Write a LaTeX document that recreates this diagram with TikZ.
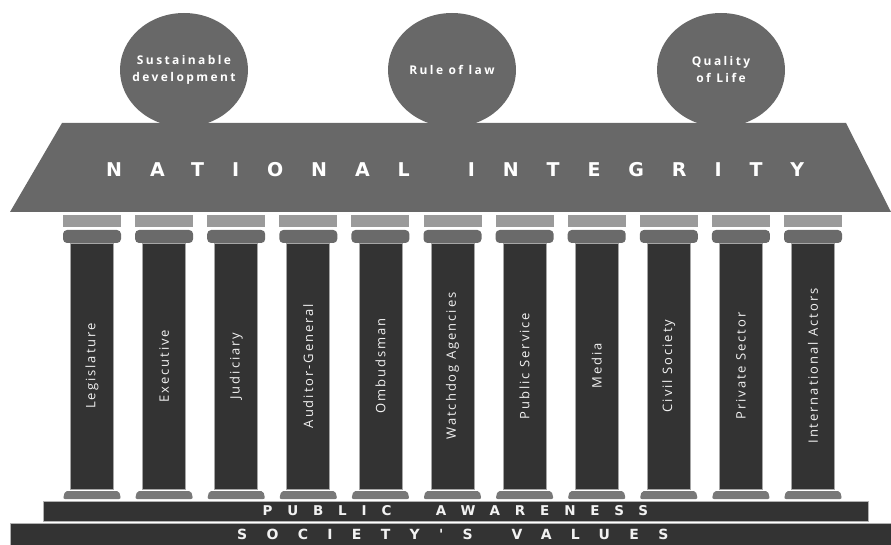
\documentclass[tikz,border=0pt]{standalone}
\usepackage{fontspec}
\setmainfont{Open Sans}
\newfontfamily\roofFont[LetterSpace=147]{DejaVu Sans}
\newfontfamily\awareFont[LetterSpace=110]{DejaVu Sans}
\newfontfamily\valueFont[LetterSpace=138]{DejaVu Sans}
\newfontfamily\pillarFont[LetterSpace=15]{Open Sans}
\newfontfamily\domeFont[LetterSpace=20]{Open Sans}
\usetikzlibrary{shapes.geometric, positioning, calc}
\definecolor{domeGray}{HTML}{686868}
\definecolor{capLight}{HTML}{9A9A9A}
\definecolor{capDark}{HTML}{6A6A6A}
\definecolor{shaftDark}{HTML}{333333}
\definecolor{baseGray}{HTML}{787878}

\begin{document}
\begin{tikzpicture}[x=1pt, y=-1pt,
  dome/.style={ellipse, fill=domeGray, minimum width=128, minimum height=114, inner sep=0pt},
  domeText/.style={text=white, align=center, inner sep=0pt,
    font=\domeFont\bfseries\fontsize{12}{17}\selectfont},
  roofText/.style={text=white, inner sep=0pt, font=\roofFont\bfseries\fontsize{19}{20}\selectfont},
  shaft/.style={rectangle, fill=shaftDark, draw=gray!70, line width=0.8pt, rotate=90,
    minimum width=246, minimum height=43, inner sep=0pt,
    text=white!90!gray, font=\pillarFont\fontsize{13}{14}\selectfont},
  bar/.style={rectangle, fill=shaftDark, draw=gray!60, line width=1pt, inner sep=0pt},
  awareText/.style={text=white!90!gray, inner sep=0pt, font=\awareFont\bfseries\fontsize{13.5}{14}\selectfont},
  valueText/.style={text=white!90!gray, inner sep=0pt, font=\valueFont\bfseries\fontsize{14}{15}\selectfont}]
  \useasboundingbox (0,0) rectangle (891,545);

  % Domes
  \node[dome] (sustain) at (184,70) {};
  \node[domeText] (sustainText) at (sustain) {Sustainable\\development};
  \node[dome] (law) at (452,70) {};
  \node[domeText] (lawText) at (law) {Rule of law};
  \node[dome] (life) at (721,70) {};
  \node[domeText] (lifeText) at (life) {Quality\\of Life};

  % Roof
  \fill[domeGray] (62,123) -- (846,123) -- (891,212) -- (10,212) -- cycle;
  \node[roofText] (roofNational) at (258,170) {NATIONAL};
  \node[roofText] (roofIntegrity) at (636,170) {INTEGRITY};

  % Pillars
  \foreach \name [count=\i from 0] in {Legislature, Executive, Judiciary, Auditor-General,
    Ombudsman, Watchdog Agencies, Public Service, Media, Civil Society, Private Sector,
    International Actors}{
    \pgfmathsetmacro\cx{92+72.1*\i}
    \fill[capLight] (\cx-29,215) rectangle (\cx+29,227);
    \fill[capDark, rounded corners=4pt] (\cx-29,230) rectangle (\cx+29,243);
    \node[shaft] (pillar\i) at (\cx,366) {\name};
    \fill[baseGray, rounded corners=2pt] (\cx-29,499) -- (\cx-27,491) -- (\cx+27,491) -- (\cx+29,499) -- cycle;
  }

  % Foundation
  \node[bar, minimum width=825, minimum height=20] (awareness) at (455.5,511) {};
  \node[awareText] (awarePublic) at (327,511) {PUBLIC};
  \node[awareText] (awareAwareness) at (542,511) {AWARENESS};
  \node[bar, minimum width=885, minimum height=22, anchor=north west] (values) at (10,523) {};
  \node[valueText] (valueSociety) at (355,534) {SOCIETY'S};
  \node[valueText] (valueValues) at (590,534) {VALUES};
\end{tikzpicture}
\end{document}
